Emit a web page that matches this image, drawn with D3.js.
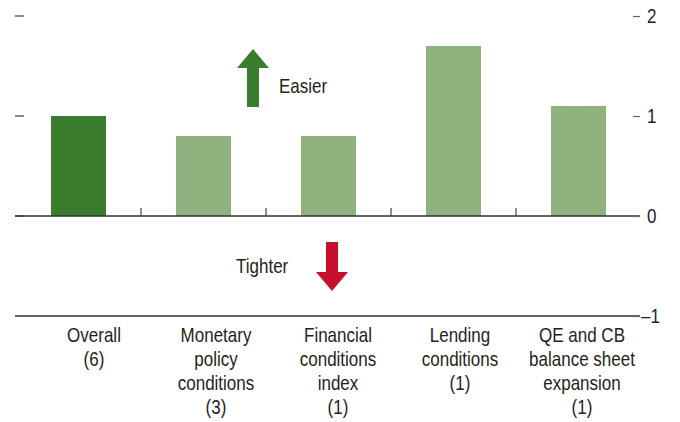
<!DOCTYPE html>
<html>
<head>
<meta charset="utf-8">
<script src="https://cdn.jsdelivr.net/npm/d3@7"></script>
<style>
  body { margin: 0; background: #fff; }
  svg text { font-family: "Liberation Sans", Arial, sans-serif; fill: #231f20; }
</style>
</head>
<body>
<div id="chart"></div>
<script>
// Data
const categories = ["Overall", "Monetary", "Financial", "Lending", "QE"];
const values = [1.0, 0.8, 0.8, 1.7, 1.1];
const labelLines = [
    ["Overall", "(6)"],
    ["Monetary", "policy", "conditions", "(3)"],
    ["Financial", "conditions", "index", "(1)"],
    ["Lending", "conditions", "(1)"],
    ["QE and CB", "balance sheet", "expansion", "(1)"]
];
const yTicks = [-1, 0, 1, 2];
const leftTicks = [0, 1, 2];

const width = 680, height = 422;
const darkGreen = "#3a7d2e", lightGreen = "#8fb27e", red = "#c8102e";
const squeeze = 0.85; // condensed look

const svg = d3.select("#chart").append("svg")
    .attr("width", width)
    .attr("height", height);

// Scales
const x = d3.scaleBand()
    .domain(categories)
    .range([16, 641])
    .padding(0);

// labels sit a bit right of the bars in the original
const xLabel = d3.scalePoint()
    .domain(categories)
    .range([94, 582]);

const y = d3.scaleLinear()
    .domain([-1, 2])
    .range([316, 16]);

const barW = x.bandwidth() * 0.44;

// helper: condensed text placed at (px, py)
function condText(px, py, size, anchor) {
    return svg.append("g")
        .attr("transform", `translate(${px},${py}) scale(${squeeze},1)`)
        .append("text")
        .attr("text-anchor", anchor || "start")
        .style("font-size", size + "px");
}

// Left short ticks (no labels)
svg.selectAll(".lt")
    .data(leftTicks)
    .enter().append("line")
    .attr("x1", 15).attr("x2", 24)
    .attr("y1", d => y(d)).attr("y2", d => y(d))
    .attr("stroke", "#666")
    .attr("stroke-width", 1.5);

// Bars
svg.selectAll(".bar")
    .data(categories)
    .enter().append("rect")
    .attr("x", d => x(d) + (x.bandwidth() - barW) / 2)
    .attr("y", (d, i) => y(values[i]))
    .attr("width", barW)
    .attr("height", (d, i) => y(0) - y(values[i]))
    .attr("fill", (d, i) => i === 0 ? darkGreen : lightGreen);

// Zero line and -1 line
[0, -1].forEach(v => {
    svg.append("line")
        .attr("x1", 15).attr("x2", 640)
        .attr("y1", y(v)).attr("y2", y(v))
        .attr("stroke", "#333").attr("stroke-width", 1.3);
});

// Category separators on zero line
svg.selectAll(".sep")
    .data(categories.slice(1))
    .enter().append("line")
    .attr("x1", d => x(d)).attr("x2", d => x(d))
    .attr("y1", y(0) - 8).attr("y2", y(0))
    .attr("stroke", "#444").attr("stroke-width", 1.2);

// Right axis
const yAxis = d3.axisRight(y)
    .tickValues(yTicks)
    .tickSize(7)
    .tickPadding(7)
    .tickFormat(d => d < 0 ? "\u2013" + Math.abs(d) : d);

const ax = svg.append("g")
    .attr("transform", "translate(633,0)")
    .call(yAxis);
ax.select(".domain").remove();
ax.selectAll("line").attr("stroke", "#666").attr("stroke-width", 1.2);
ax.selectAll("text")
    .style("font-size", "20px")
    .attr("fill", "#231f20")
    .attr("x", d => (d < 0 ? 8 : 14) / squeeze)
    .attr("transform", `scale(${squeeze},1)`);

// Category labels
categories.forEach((c, i) => {
    const t = condText(xLabel(c), 0, 20, "middle");
    labelLines[i].forEach((line, j) => {
        t.append("tspan")
            .attr("x", 0)
            .attr("y", 342 + j * 24)
            .text(line);
    });
});

// Easier arrow (up)
const gx = 253;
svg.append("path")
    .attr("d", `M${gx},49 L${gx + 16},68 L${gx + 6},68 L${gx + 6},107 L${gx - 6},107 L${gx - 6},68 L${gx - 16},68 Z`)
    .attr("fill", darkGreen);
condText(279, 93, 20).text("Easier");

// Tighter arrow (down)
const rx = 332;
svg.append("path")
    .attr("d", `M${rx - 6},242 L${rx + 6},242 L${rx + 6},272 L${rx + 16},272 L${rx},291 L${rx - 16},272 L${rx - 6},272 Z`)
    .attr("fill", red);
condText(236, 273, 20).text("Tighter");
</script>
</body>
</html>
